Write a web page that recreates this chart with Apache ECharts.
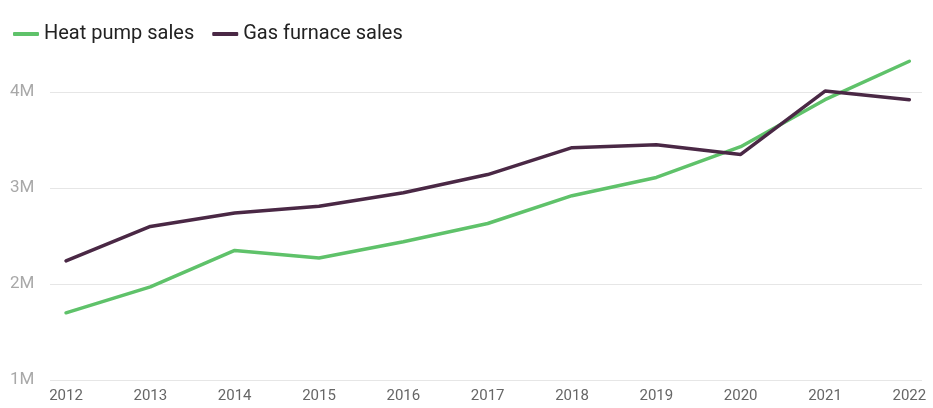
<!DOCTYPE html>
<html>
<head>
<meta charset="utf-8">
<script src="https://cdn.jsdelivr.net/npm/echarts@6/dist/echarts.min.js"></script>
<style>
  html, body { margin: 0; padding: 0; background: #fff; }
  #chart { width: 933px; height: 408px; }
</style>
</head>
<body>
<div id="chart"></div>
<script>
// US annual sales, millions of units
const years = [2012, 2013, 2014, 2015, 2016, 2017, 2018, 2019, 2020, 2021, 2022];
const heatPumpSales = [1.70, 1.97, 2.35, 2.27, 2.44, 2.63, 2.92, 3.11, 3.43, 3.92, 4.32];
const gasFurnaceSales = [2.24, 2.60, 2.74, 2.81, 2.95, 3.14, 3.42, 3.45, 3.35, 4.01, 3.92];
const yTicks = [1, 2, 3, 4];

const GREEN = '#5fc26a';
const PURPLE = '#4a2845';

const chart = echarts.init(document.getElementById('chart'));

const pairs = (vals) => years.map((y, i) => [y, vals[i]]);

chart.setOption({
  animation: false,
  backgroundColor: '#fff',
  legend: {
    left: 8,
    top: 19,
    itemWidth: 26,
    itemHeight: 4,
    itemGap: 18,
    icon: 'roundRect',
    textStyle: { fontFamily: 'Roboto', fontSize: 20, color: '#222' },
    data: ['Heat pump sales', 'Gas furnace sales']
  },
  grid: { left: 50, right: 11, top: 53.6, bottom: 28 },
  xAxis: {
    type: 'value',
    min: 2011.81,
    max: 2022.15,
    axisLine: { show: false },
    axisTick: { show: false },
    splitLine: { show: false },
    axisLabel: {
      customValues: years,
      formatter: (v) => String(v),
      fontFamily: 'Roboto',
      fontSize: 15,
      color: '#666',
      margin: 9
    }
  },
  yAxis: {
    type: 'value',
    min: 1,
    max: 4.4,
    interval: 1,
    axisLine: { show: false },
    axisTick: { show: false },
    splitLine: { showMaxLine: false, lineStyle: { color: '#e6e6e6', width: 1 } },
    axisLabel: {
      customValues: yTicks,
      formatter: (v) => v + 'M',
      fontFamily: 'Roboto',
      fontSize: 17,
      color: '#a8a8a8',
      align: 'left',
      margin: 40,
      verticalAlign: 'middle'
    }
  },
  series: [
    {
      name: 'Heat pump sales',
      type: 'line',
      data: pairs(heatPumpSales),
      showSymbol: false,
      symbol: 'none',
      itemStyle: { color: GREEN },
      lineStyle: { color: GREEN, width: 3.5, cap: 'round' }
    },
    {
      name: 'Gas furnace sales',
      type: 'line',
      data: pairs(gasFurnaceSales),
      showSymbol: false,
      symbol: 'none',
      itemStyle: { color: PURPLE },
      lineStyle: { color: PURPLE, width: 3.5, cap: 'round' }
    }
  ]
});
</script>
</body>
</html>
